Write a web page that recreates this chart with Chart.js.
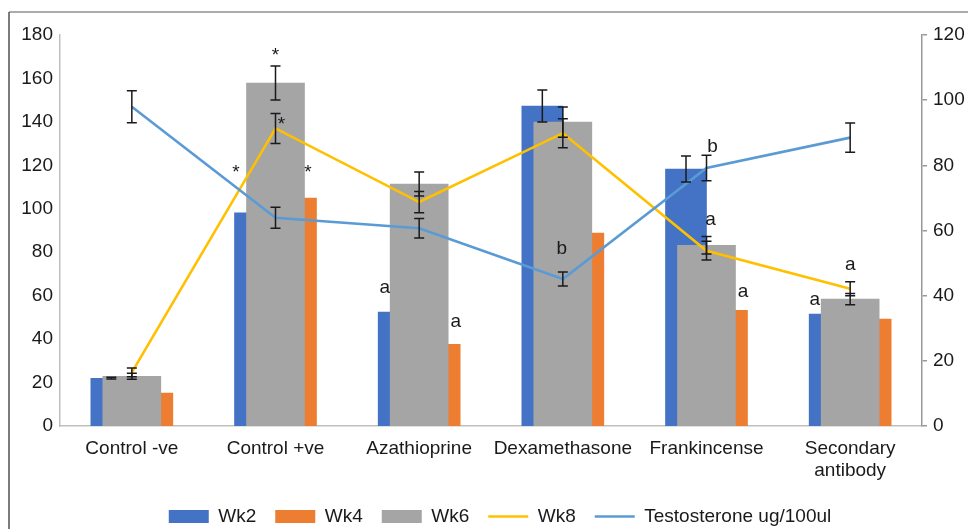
<!DOCTYPE html>
<html>
<head>
<meta charset="utf-8">
<script src="https://cdn.jsdelivr.net/npm/chart.js@4.4.1/dist/chart.umd.min.js"></script>
<style>
  html, body { margin: 0; padding: 0; background: #ffffff; }
  #wrap { width: 968px; height: 529px; position: relative; }
</style>
</head>
<body>
<div id="wrap"><canvas id="chart" width="968" height="529"></canvas></div>
<script>
// Treatment groups (tick labels on the category axis)
const categories = ['Control -ve', 'Control +ve', 'Azathioprine', 'Dexamethasone', 'Frankincense', ['Secondary', 'antibody']];

// Weekly measurements (left axis)
const wk2 = [22.0, 98.1, 52.4, 147.3, 118.3, 51.5];
const wk4 = [15.1, 104.9, 37.6, 88.8, 53.3, 49.2];
const wk6 = [22.9, 157.9, 111.4, 139.9, 83.2, 58.4];
const wk8 = [24.7, 137.0, 103.1, 134.8, 80.7, 63.2];

// Testosterone level (right axis)
const testosterone = [98.0, 63.9, 60.7, 45.1, 79.2, 88.5];

// Standard errors (null where no bar is shown)
const wk2Err = [0.4, null, null, 7.4, 6.0, null];
const wk4Err = [null, null, null, null, null, null];
const wk6Err = [1.4, 7.8, 5.5, 7.0, 4.0, 2.6];
const wk8Err = [2.0, 6.9, 4.9, 6.7, 4.3, 3.2];
const testosteroneErr = [4.9, 3.2, 3.0, 2.15, 3.9, 4.5];

// Significance letters: series index, group index, text
const sigMarks = [
  [2, 1, '*'], [3, 1, '*'], [0, 1, '*'], [1, 1, '*'],
  [0, 2, 'a'], [1, 2, 'a'],
  [4, 3, 'b'],
  [4, 4, 'b'], [2, 4, 'a'], [1, 4, 'a'],
  [0, 5, 'a'], [3, 5, 'a']
];
// Placement of each letter relative to its mark (px): dx, dy to the text baseline
const sigOffsets = [
  [0, -22], [6, 2], [-19, -35], [12, -20],
  [-14, -19], [16, -17],
  [-1, -25],
  [6, -16], [4, -20], [16, -13],
  [-15, -9], [0, -19]
];

const FONT = 'Liberation Sans, Arial, sans-serif';
const TEXT = '#1a1a1a';

const errorSets = [wk2Err, wk4Err, wk6Err, wk8Err, testosteroneErr];

const errorBarPlugin = {
  id: 'errorBars',
  afterDatasetsDraw(chart) {
    const ctx = chart.ctx;
    ctx.save();
    ctx.strokeStyle = TEXT;
    ctx.lineWidth = 1.5;
    chart.data.datasets.forEach((ds, di) => {
      const errs = errorSets[di];
      if (!errs) return;
      const meta = chart.getDatasetMeta(di);
      const scale = chart.scales[meta.yAxisID];
      errs.forEach((e, i) => {
        if (e === null || e === undefined) return;
        const el = meta.data[i];
        const v = ds.data[i];
        const x = el.x;
        const yTop = scale.getPixelForValue(v + e);
        const yBot = scale.getPixelForValue(v - e);
        ctx.beginPath();
        ctx.moveTo(x, yTop); ctx.lineTo(x, yBot);
        ctx.moveTo(x - 5, yTop); ctx.lineTo(x + 5, yTop);
        ctx.moveTo(x - 5, yBot); ctx.lineTo(x + 5, yBot);
        ctx.stroke();
      });
    });
    ctx.restore();
  }
};

const marksPlugin = {
  id: 'sigMarks',
  afterDatasetsDraw(chart) {
    const ctx = chart.ctx;
    ctx.save();
    ctx.fillStyle = TEXT;
    ctx.font = '19px ' + FONT;
    ctx.textAlign = 'center';
    ctx.textBaseline = 'alphabetic';
    sigMarks.forEach(([si, gi, txt], k) => {
      const el = chart.getDatasetMeta(si).data[gi];
      const [dx, dy] = sigOffsets[k];
      ctx.fillText(txt, el.x + dx, el.y + dy);
    });
    ctx.restore();
  }
};

// Legend sits a little right of the canvas centre
const legendShift = {
  id: 'legendShift',
  afterLayout(chart) {
    if (chart.legend) {
      chart.legend.left += 16;
      chart.legend.right += 16;
    }
  }
};

const framePlugin = {
  id: 'frame',
  afterDraw(chart) {
    const ctx = chart.ctx;
    ctx.save();
    ctx.lineWidth = 1.5;
    ctx.strokeStyle = '#8f8f8f';
    ctx.beginPath(); ctx.moveTo(9, 12); ctx.lineTo(968, 12); ctx.stroke();
    ctx.strokeStyle = '#505050';
    ctx.beginPath(); ctx.moveTo(9, 12); ctx.lineTo(9, 529); ctx.stroke();
    ctx.restore();
  }
};

new Chart(document.getElementById('chart'), {
  type: 'bar',
  data: {
    labels: categories,
    datasets: [
      { label: 'Wk2', data: wk2, backgroundColor: '#4472C4', barThickness: 41, order: 4, yAxisID: 'y' },
      { label: 'Wk4', data: wk4, backgroundColor: '#ED7D31', barThickness: 41, order: 5, yAxisID: 'y' },
      { label: 'Wk6', data: wk6, backgroundColor: '#A5A5A5', barThickness: 58, grouped: false, order: 3, yAxisID: 'y' },
      { type: 'line', label: 'Wk8', data: wk8, borderColor: '#FFC000', backgroundColor: '#FFC000',
        borderWidth: 2.6, pointRadius: 0, tension: 0, order: 2, yAxisID: 'y' },
      { type: 'line', label: 'Testosterone ug/100ul', data: testosterone, borderColor: '#5B9BD5', backgroundColor: '#5B9BD5',
        borderWidth: 2.6, pointRadius: 0, tension: 0, order: 1, yAxisID: 'y2' }
    ]
  },
  options: {
    responsive: false,
    animation: false,
    layout: { padding: { top: 35, left: 0, right: 0, bottom: -7 } },
    scales: {
      x: {
        grid: { display: false, drawTicks: false },
        border: { display: true, color: '#bfbfbf', width: 1.5 },
        ticks: { color: TEXT, font: { family: FONT, size: 19 }, padding: 11, maxRotation: 0, autoSkip: false },
        afterFit(scale) { scale.height = 62; }
      },
      y: {
        position: 'left',
        min: 0, max: 180,
        grid: { display: false, drawTicks: false },
        border: { display: true, color: '#bfbfbf', width: 1.5 },
        ticks: { stepSize: 20, color: TEXT, font: { family: FONT, size: 19 }, padding: 7 },
        afterFit(scale) { scale.width = 60; }
      },
      y2: {
        position: 'right',
        min: 0, max: 120,
        grid: { display: true, drawOnChartArea: false, drawTicks: true, tickLength: 5, color: '#999999', lineWidth: 1.5 },
        border: { display: true, color: '#999999', width: 1.5 },
        ticks: { stepSize: 20, color: TEXT, font: { family: FONT, size: 19 }, padding: 6 },
        afterFit(scale) { scale.width = 46; }
      }
    },
    plugins: {
      tooltip: { enabled: false },
      legend: {
        position: 'bottom',
        labels: {
          usePointStyle: true,
          pointStyleWidth: 40,
          boxHeight: 13,
          padding: 19,
          color: TEXT,
          font: { family: FONT, size: 19 },
          generateLabels(chart) {
            return chart.data.datasets.map((ds, i) => ({
              text: ds.label,
              fillStyle: ds.type === 'line' ? 'rgba(0,0,0,0)' : ds.backgroundColor,
              strokeStyle: ds.type === 'line' ? ds.borderColor : ds.backgroundColor,
              lineWidth: ds.type === 'line' ? 2.6 : 0,
              pointStyle: ds.type === 'line' ? 'line' : 'rect',
              hidden: false,
              datasetIndex: i,
              fontColor: TEXT
            }));
          },
          sort: (a, b) => a.datasetIndex - b.datasetIndex
        }
      }
    }
  },
  plugins: [errorBarPlugin, marksPlugin, legendShift, framePlugin]
});
</script>
</body>
</html>
